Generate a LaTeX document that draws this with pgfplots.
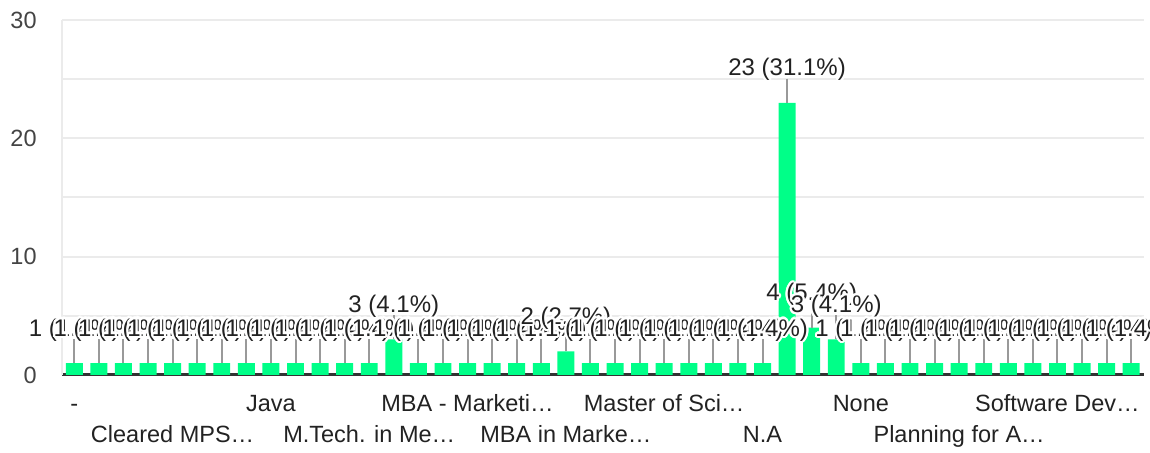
\documentclass[border=0pt]{standalone}
\usepackage{fontspec}
\setmainfont{Liberation Sans}
\usepackage{pgfplots}
\pgfplotsset{compat=1.18}
\usepackage[copies]{contour}
\contourlength{1.1pt}
\contournumber{16}

\definecolor{bargreen}{HTML}{00FF88}
\definecolor{gridgray}{HTML}{EBEBEB}
\definecolor{axisdark}{HTML}{333333}
\definecolor{labeldark}{HTML}{222222}
\definecolor{stemgray}{HTML}{999999}
\definecolor{ylab}{HTML}{444444}

\begin{document}
\begin{tikzpicture}
\useasboundingbox (-31pt,-39pt) rectangle (544pt,187.5pt);
\begin{axis}[
    scale only axis,
    width=540.75pt, height=177.5pt,
    xmin=-0.5, xmax=43.5, ymin=0, ymax=30,
    ybar, bar width=0.69,
    axis x line*=bottom, axis y line*=left,
    x axis line style={axisdark, line width=1.5pt, -},
    y axis line style={gridgray, line width=1pt, -},
    ytick={0,10,20,30}, minor y tick num=1,
    ymajorgrids, yminorgrids,
    major grid style={gridgray, line width=1pt},
    minor grid style={gridgray, line width=1pt},
    major tick length=0pt, minor tick length=0pt,
    /pgf/number format/assume math mode=true,
    yticklabel style={font=\fontsize{11.75}{14}\selectfont, text=ylab,
        anchor=east, inner sep=0pt, xshift=-12.5pt},
    xtick={0,8,16,24,32,40},
    xticklabels={-,Java,MBA - Marketi…,Master of Sci…,None,Software Dev…},
    extra x ticks={4,12,20,28,36},
    extra x tick labels={Cleared MPS…,M.Tech. in Me…,MBA in Marke…,N.A,Planning for A…},
    extra x tick style={grid=none, xticklabel style={yshift=-15.5pt}},
    xticklabel style={font=\fontsize{11.75}{14}\selectfont, text=labeldark,
        anchor=base, inner sep=0pt, yshift=-18.5pt},
    nodes near coords={\contour{white}{\pgfplotspointmeta}},
    point meta=explicit symbolic,
    every node near coord/.append style={font=\fontsize{12}{14}\selectfont,
        text=labeldark, anchor=base, inner sep=0pt, yshift=13.5pt},
]
% one bar per answer, 74 answers in total
\addplot[fill=bargreen, draw=none,
    error bars/.cd, y dir=plus, y fixed=2.05,
    error bar style={draw=stemgray, line width=1pt}, error mark=none]
coordinates {
(0,1) [1 (1.4\%)]  (1,1) [1 (1.4\%)]  (2,1) [1 (1.4\%)]  (3,1) [1 (1.4\%)]
(4,1) [1 (1.4\%)]  (5,1) [1 (1.4\%)]  (6,1) [1 (1.4\%)]  (7,1) [1 (1.4\%)]
(8,1) [1 (1.4\%)]  (9,1) [1 (1.4\%)]  (10,1) [1 (1.4\%)] (11,1) [1 (1.4\%)]
(12,1) [1 (1.4\%)] (13,3) [3 (4.1\%)] (14,1) [1 (1.4\%)] (15,1) [1 (1.4\%)]
(16,1) [1 (1.4\%)] (17,1) [1 (1.4\%)] (18,1) [1 (1.4\%)] (19,1) [1 (1.4\%)]
(20,2) [2 (2.7\%)] (21,1) [1 (1.4\%)] (22,1) [1 (1.4\%)] (23,1) [1 (1.4\%)]
(24,1) [1 (1.4\%)] (25,1) [1 (1.4\%)] (26,1) [1 (1.4\%)] (27,1) [1 (1.4\%)]
(28,1) [1 (1.4\%)] (29,23) [23 (31.1\%)] (30,4) [4 (5.4\%)] (31,3) [3 (4.1\%)]
(32,1) [1 (1.4\%)] (33,1) [1 (1.4\%)] (34,1) [1 (1.4\%)] (35,1) [1 (1.4\%)]
(36,1) [1 (1.4\%)] (37,1) [1 (1.4\%)] (38,1) [1 (1.4\%)] (39,1) [1 (1.4\%)]
(40,1) [1 (1.4\%)] (41,1) [1 (1.4\%)] (42,1) [1 (1.4\%)] (43,1) [1 (1.4\%)]
};
\end{axis}
\end{tikzpicture}
\end{document}
